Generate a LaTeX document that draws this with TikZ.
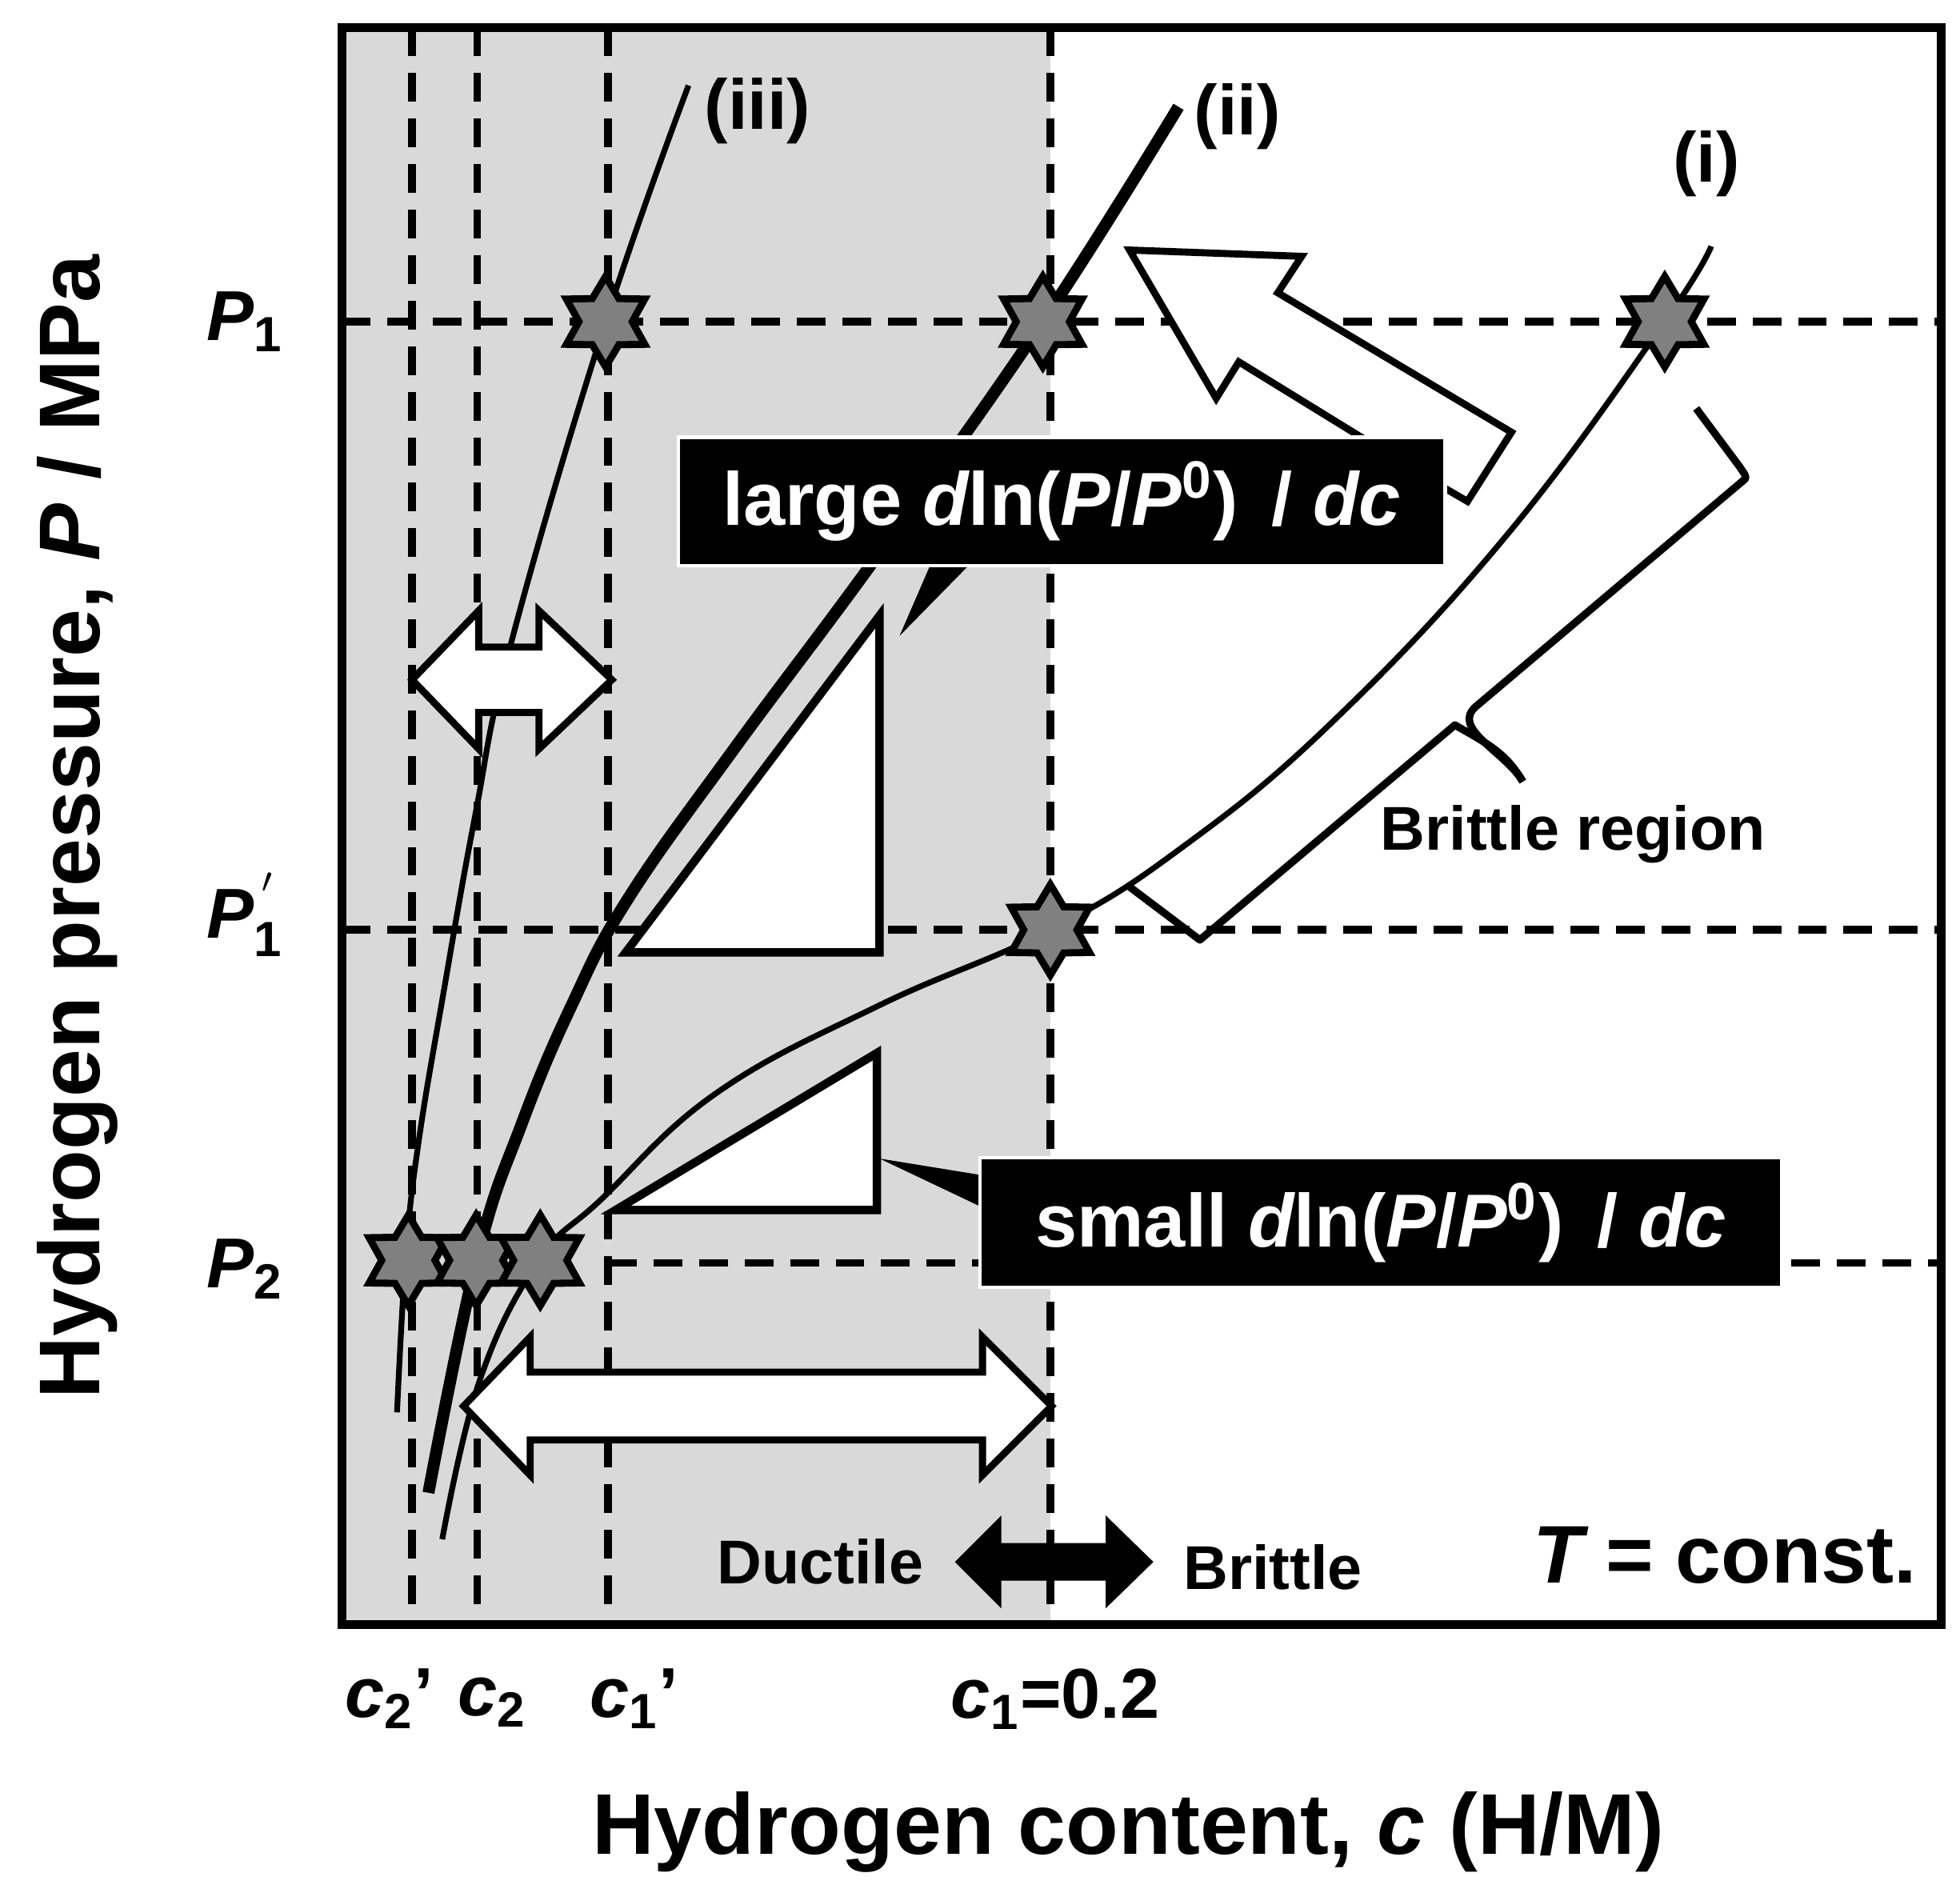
\documentclass[tikz,border=0pt]{standalone}
\usepackage{fontspec}
\setmainfont{Liberation Sans}
\usetikzlibrary{shapes.geometric}
\begin{document}
\begin{tikzpicture}[x=0.01cm,y=-0.01cm,
  dsh/.style={line width=1.7pt,dash pattern=on 6.5pt off 3.8pt},
  st/.style={star,star points=6,star point ratio=1.7,minimum size=0.72cm,inner sep=0pt,fill=black!50,draw=black,line width=1.6pt},
  thin/.style={line width=1.3pt},
  blk/.style={fill=black,draw=white,line width=0.8pt,text=white,font=\bfseries\fontsize{17}{19}\selectfont,inner sep=0pt},
  wa/.style={fill=white,draw=black,line width=1.6pt,line join=miter},
  lab/.style={font=\bfseries\fontsize{16}{18}\selectfont,inner sep=0pt},
  sml/.style={font=\bfseries\fontsize{14}{16}\selectfont}]
\useasboundingbox (0,0) rectangle (1560,1500);
% shaded region
\fill[black!15] (272,22) rectangle (836,1293);
% dashed guides
\foreach \x in {328,380,484,836}{\draw[dsh] (\x,22) -- (\x,1293);}
\draw[dsh] (272,256) -- (1545,256);
\draw[dsh] (272,740) -- (1545,740);
\draw[dsh] (484,1005) -- (1545,1005);
% triangles
\draw[wa,line width=1.9pt] (498,758) -- (700,758) -- (700,490) -- cycle;
\draw[wa,line width=1.9pt] (490,963) -- (698,963) -- (698,838) -- cycle;
% curves
\draw[thin] plot[smooth,tension=0.7] coordinates {(548,68) (482,256) (407,511) (378,650) (353,790) (333,910) (323,1000) (316,1124)};
\draw[line width=2.7pt] plot[smooth,tension=0.7] coordinates {(938,85) (830,256) (700,440) (585,595) (500,715) (455,800) (415,895) (380,1000) (341,1188)};
\draw[thin] plot[smooth,tension=0.7] coordinates {(1362,196) (1325,256) (1200,425) (1060,575) (940,675) (836,740) (700,800) (570,870) (478,955) (429,1003) (382,1098) (352,1225)};
% small double arrow
\draw[wa] (328,541) -- (381,486) -- (381,515) -- (429,515) -- (429,486) -- (487,541) -- (429,596) -- (429,567) -- (381,567) -- (381,596) -- cycle;
% big double arrow
\draw[wa] (369,1119) -- (422,1064) -- (422,1092) -- (782,1092) -- (782,1064) -- (837,1119) -- (782,1174) -- (782,1146) -- (422,1146) -- (422,1174) -- cycle;
% black double arrow
\fill (760,1243) -- (797,1206) -- (797,1228) -- (880,1228) -- (880,1206) -- (918,1243) -- (880,1280) -- (880,1258) -- (797,1258) -- (797,1280) -- cycle;
% bent arrow
\draw[wa] (899,199) -- (1036,204) -- (1017,233) -- (1203,344) -- (1168,399) -- (1130,377) -- (1090,352) -- (986,288) -- (968,317) -- cycle;
% brace
\draw[line width=1.7pt,line join=round] (1350,325) -- (1385,372) to[out=-60,in=30] (1388,382) -- (1175,562) to[out=-140,in=120] (1212,622);
\draw[line width=1.7pt,line join=round] (1212,622) to[out=120,in=-30] (1158,577) -- (955,748) -- (898,705);
% stars
\node[st] (s1) at (482,256) {};
\node[st] (s2) at (830,256) {};
\node[st] (s3) at (1325,256) {};
\node[st] (s4) at (836,740) {};
\node[st] (s5) at (325,1003) {};
\node[st] (s6) at (379,1003) {};
\node[st] (s7) at (430,1003) {};
% callout boxes
\fill[black] (742,446) -- (770,451) -- (716,506) -- cycle;
\node[blk,minimum width=6.1cm,minimum height=1.02cm] (bl) at (845,399) {large \itshape d\upshape ln(\itshape P\upshape/\itshape P\upshape$^{\mathbf 0}$)\,\ /\ \itshape dc};
\fill[black] (780,935) -- (780,960) -- (700,922) -- cycle;
\node[blk,minimum width=6.38cm,minimum height=1.03cm] (bs) at (1099,973) {small \itshape d\upshape ln(\itshape P\upshape/\itshape P\upshape$^{\mathbf 0}$)\,\ /\ \itshape dc};
% frame
\draw[line width=2pt] (272,22) rectangle (1545,1293);
% labels
\node[lab] (l3) at (603,88) {(iii)};
\node[lab] (l2) at (985,93) {(ii)};
\node[lab] (l1) at (1358,130) {(i)};
\node[sml] (br) at (1252,664) {Brittle region};
\node[sml] (du) at (653,1243) {Ductile};
\node[sml] (bt) at (1013,1247) {Brittle};
\node[font=\bfseries\fontsize{18.5}{20}\selectfont,anchor=east] (tc) at (1538,1238) {\itshape T\upshape\ = const.};
\node[lab] (p1) at (195,256) {\itshape P\upshape$_{\mathbf 1}$};
\node[lab] (p1b) at (195,728) {\itshape P\upshape$_{\mathbf 1}^{\,\mathbf '}$};
\node[lab] (p2) at (195,1010) {\itshape P\upshape$_{\mathbf 2}$};
\node[lab] (c2b) at (310,1352) {\itshape c\upshape$_{\mathbf 2}$'};
\node[lab] (c2) at (392,1355) {\itshape c\upshape$_{\mathbf 2}$};
\node[lab] (c1b) at (505,1352) {\itshape c\upshape$_{\mathbf 1}$'};
\node[lab] (c1) at (840,1352) {\itshape c\upshape$_{\mathbf 1}$=0.2};
\node[font=\bfseries\fontsize{19.5}{21}\selectfont] (xl) at (898,1458) {Hydrogen content, \itshape c\upshape\ (H/M)};
\node[font=\bfseries\fontsize{19.5}{21}\selectfont,rotate=90] (yl) at (62,658) {Hydrogen pressure, \itshape P\upshape\ / MPa};
\end{tikzpicture}
\end{document}
